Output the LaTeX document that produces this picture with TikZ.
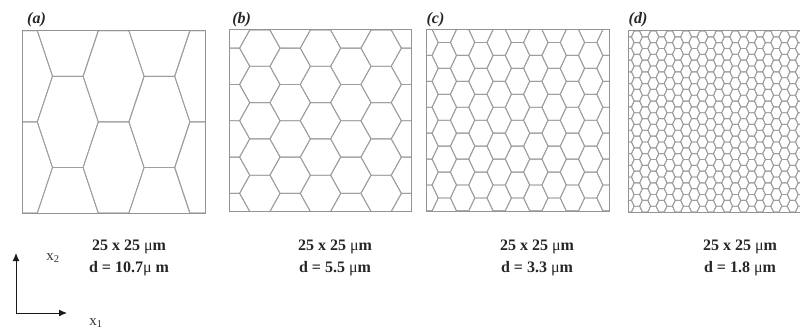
\documentclass[tikz,border=0pt]{standalone}
\usepackage{fontspec}
\setmainfont{Liberation Serif}
\usetikzlibrary{arrows.meta}
\newcommand\drawhexes{%
  \begin{scope}
    \clip (\pL,\pT) rectangle (\pR,\pB);
    \pgfmathtruncatemacro\ni{(\pR-\pL)/\pcs+1}
    \pgfmathtruncatemacro\nj{(\pB-\pT)/(2*\ph)+1}
    \foreach \i in {-1,...,\ni}{
      \foreach \j in {-1,...,\nj}{
        \pgfmathsetmacro\cx{\pL+\ox+\i*\pcs}
        \pgfmathsetmacro\cy{\pT+\oy+mod(\i+2,2)*\ph+2*\j*\ph}
        \draw[hexline] (\cx-\pa/2-\ps,\cy) -- (\cx-\pa/2,\cy-\ph) -- (\cx+\pa/2,\cy-\ph)
          -- (\cx+\pa/2+\ps,\cy) -- (\cx+\pa/2,\cy+\ph) -- (\cx-\pa/2,\cy+\ph) -- cycle;
      }
    }
  \end{scope}}
\begin{document}
\begin{tikzpicture}[x=1pt,y=-1pt,
  hexline/.style={draw=black!38, line width=0.9pt, line join=round},
  boxline/.style={draw=black!42, line width=1pt},
  panellabel/.style={font=\fontsize{16}{18}\selectfont\bfseries\itshape, text=black!85, inner sep=0pt},
  sizelabel/.style={font=\fontsize{16}{22}\selectfont\bfseries, text=black!85, align=center, inner sep=0pt},
  axislabel/.style={font=\fontsize{15}{16}\selectfont, text=black!80, inner sep=0pt},
  axis/.style={draw=black!90, line width=1pt, -{Latex[length=8pt,width=7pt]}}]
\useasboundingbox (0,0) rectangle (800,329);
% panel (a)
\def\pL{22}\def\pT{30.7}\def\pR{205.3}\def\pB{213.3}\def\pcs{45.8}\def\pa{30.6}\def\ps{15.2}\def\ph{45.6}\def\ox{0}\def\oy{45.6}
\drawhexes
\draw[boxline] (\pL,\pT) rectangle (\pR,\pB);
% panel (b)
\def\pL{229.5}\def\pT{30}\def\pR{411.5}\def\pB{211.5}\def\pcs{30.33}\def\pa{20.2}\def\ps{10.13}\def\ph{18.15}\def\ox{0}\def\oy{0}
\drawhexes
\draw[boxline] (\pL,\pT) rectangle (\pR,\pB);
% panel (c)
\def\pL{426}\def\pT{29.5}\def\pR{609}\def\pB{211}\def\pcs{18.3}\def\pa{12.2}\def\ps{6.1}\def\ph{12.96}\def\ox{0}\def\oy{12.96}
\drawhexes
\draw[boxline] (\pL,\pT) rectangle (\pR,\pB);
% panel (d)
\def\pL{628.7}\def\pT{31}\def\pR{812}\def\pB{212}\def\pcs{8.2}\def\pa{5.47}\def\ps{2.73}\def\ph{5.84}\def\ox{0}\def\oy{0}
\drawhexes
\draw[boxline] (\pL,\pT) rectangle (\pR,\pB);
% panel labels
\node[panellabel] (la) at (36.5,20) {(a)};
\node[panellabel] (lb) at (241.7,20) {(b)};
\node[panellabel] (lc) at (435.5,20) {(c)};
\node[panellabel] (ld) at (638,20) {(d)};
% size labels
\node[sizelabel] (sa) at (129,258) {25 x 25 {\mdseries μ}m\\d = 10.7{\mdseries μ} m};
\node[sizelabel] (sb) at (335,258) {25 x 25 {\mdseries μ}m\\d = 5.5 {\mdseries μ}m};
\node[sizelabel] (sc) at (537,258) {25 x 25 {\mdseries μ}m\\d = 3.3 {\mdseries μ}m};
\node[sizelabel] (sd) at (740,258) {25 x 25 {\mdseries μ}m\\d = 1.8 {\mdseries μ}m};
% axes
\coordinate (o) at (16,313);
\coordinate (ytip) at (16,253);
\coordinate (xtip) at (67,313);
\draw[axis] (o) -- (ytip);
\draw[axis] (o) -- (xtip);
\node[axislabel] (x2) at (53,258) {x\textsubscript{2}};
\node[axislabel] (x1) at (96,323) {x\textsubscript{1}};
\end{tikzpicture}
\end{document}
